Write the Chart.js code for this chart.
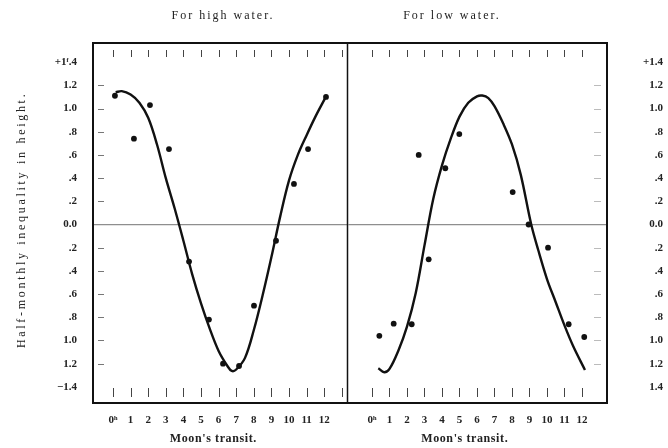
<!DOCTYPE html>
<html>
<head>
<meta charset="utf-8">
<script src="https://cdn.jsdelivr.net/npm/chart.js@4.4.0/dist/chart.umd.min.js"></script>
<style>
  body { margin: 0; background: #fff; }
  #wrap { position: relative; width: 668px; height: 448px; background: #fff; }
  #highChart { position: absolute; left: 0; top: 0; }
  #lowChart { position: absolute; left: 348px; top: 0; }
</style>
</head>
<body>
<div id="wrap">
  <canvas id="highChart" width="349" height="448"></canvas>
  <canvas id="lowChart" width="320" height="448"></canvas>
</div>
<script>
// axis ticks (feet) and labels, bottom to top
const yTickValues = [-1.4, -1.2, -1.0, -0.8, -0.6, -0.4, -0.2, 0, 0.2, 0.4, 0.6, 0.8, 1.0, 1.2, 1.4];
const yLabelsHigh = ['\u22121.4', '1.2', '1.0', '.8', '.6', '.4', '.2', '0.0', '.2', '.4', '.6', '.8', '1.0', '1.2', '+1\u1da0.4'];
const yLabelsLow = ['1.4', '1.2', '1.0', '.8', '.6', '.4', '.2', '0.0', '.2', '.4', '.6', '.8', '1.0', '1.2', '+1.4'];

// moon's transit, hours
const hourValues = [0, 1, 2, 3, 4, 5, 6, 7, 8, 9, 10, 11, 12];
const hourLabels = ['0\u02b0', '1', '2', '3', '4', '5', '6', '7', '8', '9', '10', '11', '12'];
const innerTicksHigh = [0, 1, 2, 3, 4, 5, 6, 7, 8, 9, 10, 11, 12, 13];
const innerTicksLow = [0, 1, 2, 3, 4, 5, 6, 7, 8, 9, 10, 11, 12];

// high water: observed points
const highObsHours = [0.11, 1.19, 2.10, 3.18, 4.32, 5.45, 6.25, 7.16, 8.01, 9.26, 10.28, 11.08, 12.10];
const highObsValues = [1.11, 0.74, 1.03, 0.65, -0.32, -0.82, -1.20, -1.22, -0.70, -0.14, 0.35, 0.65, 1.10];
// high water: drawn curve
const highCurveHours = [0.15, 0.5, 1.0, 1.5, 2.0, 2.5, 3.0, 3.5, 4.0, 4.5, 5.0, 5.5, 6.0, 6.5, 6.75, 7.0, 7.5, 8.0, 8.5, 9.0, 9.5, 10.0, 10.5, 11.0, 11.5, 12.09];
const highCurveValues = [1.14, 1.15, 1.12, 1.05, 0.92, 0.69, 0.40, 0.14, -0.14, -0.43, -0.68, -0.90, -1.09, -1.22, -1.263, -1.25, -1.15, -0.91, -0.61, -0.28, 0.07, 0.38, 0.60, 0.77, 0.93, 1.10];

// low water: observed points
const lowObsHours = [0.42, 1.24, 2.27, 2.67, 3.24, 4.19, 4.99, 8.04, 8.95, 10.06, 11.24, 12.13];
const lowObsValues = [-0.96, -0.855, -0.86, 0.60, -0.30, 0.485, 0.78, 0.28, 0.0, -0.20, -0.86, -0.97];
// low water: drawn curve
const lowCurveHours = [0.36, 0.7, 1.0, 1.5, 2.0, 2.5, 3.0, 3.5, 4.0, 4.5, 5.0, 5.5, 6.0, 6.3, 6.65, 7.0, 7.5, 8.0, 8.5, 9.1, 9.5, 10.0, 10.5, 11.0, 11.5, 12.17];
const lowCurveValues = [-1.24, -1.274, -1.245, -1.09, -0.88, -0.59, -0.18, 0.22, 0.51, 0.74, 0.93, 1.05, 1.105, 1.112, 1.09, 1.02, 0.87, 0.69, 0.43, 0.0, -0.22, -0.47, -0.67, -0.87, -1.05, -1.254];

const serif = '"Liberation Serif", "DejaVu Serif", serif';

function points(xs, ys) {
  return xs.map((x, i) => ({ x: x, y: ys[i] }));
}

// frame, inner tick marks and loose text for one panel
const panelFrame = {
  id: 'panelFrame',
  beforeDatasetsDraw(chart, args, opts) {
    const ctx = chart.ctx;
    const a = chart.chartArea;
    const xs = chart.scales.x;
    const ys = chart.scales.y;
    ctx.save();
    ctx.strokeStyle = '#444';
    ctx.lineWidth = 1;
    opts.innerTicks.forEach(h => {
      const px = Math.round(xs.getPixelForValue(h)) + 0.5;
      ctx.beginPath();
      ctx.moveTo(px, a.top + 7);
      ctx.lineTo(px, a.top + 14);
      ctx.moveTo(px, a.bottom - 15);
      ctx.lineTo(px, a.bottom - 6);
      ctx.stroke();
    });
    ctx.strokeStyle = opts.side === 'left' ? '#777' : '#bbb';
    yTickValues.forEach(v => {
      if (Math.abs(v) > 1.3 || v === 0) return;
      const py = Math.round(ys.getPixelForValue(v)) + 0.5;
      ctx.beginPath();
      if (opts.side === 'left') {
        ctx.moveTo(a.left + 5, py);
        ctx.lineTo(a.left + 11, py);
      } else {
        ctx.moveTo(a.right - 13, py);
        ctx.lineTo(a.right - 6, py);
      }
      ctx.stroke();
    });
    ctx.restore();
  },
  afterDraw(chart, args, opts) {
    const ctx = chart.ctx;
    const a = chart.chartArea;
    const xs = chart.scales.x;
    const ys = chart.scales.y;
    ctx.save();
    ctx.strokeStyle = '#111';
    ctx.lineWidth = 2;
    ctx.beginPath();
    if (opts.side === 'left') {
      ctx.moveTo(a.right, a.top);
      ctx.lineTo(a.left, a.top);
      ctx.lineTo(a.left, a.bottom);
      ctx.lineTo(a.right, a.bottom);
    } else {
      ctx.moveTo(a.left, a.top);
      ctx.lineTo(a.right, a.top);
      ctx.lineTo(a.right, a.bottom);
      ctx.lineTo(a.left, a.bottom);
    }
    ctx.stroke();
    if (opts.side === 'left') {
      ctx.lineWidth = 1.5;
      ctx.beginPath();
      ctx.moveTo(a.right - 0.5, a.top);
      ctx.lineTo(a.right - 0.5, a.bottom);
      ctx.stroke();
    }

    ctx.fillStyle = '#222';
    ctx.textAlign = 'center';
    ctx.textBaseline = 'middle';
    ctx.font = '12px ' + serif;
    ctx.letterSpacing = '2px';
    ctx.fillText(opts.title, xs.getPixelForValue(opts.titleHour), a.top - 27);
    ctx.font = 'bold 12px ' + serif;
    ctx.letterSpacing = '0.6px';
    ctx.fillText("Moon's transit.", xs.getPixelForValue(opts.transitHour), a.bottom + 36);
    if (opts.side === 'left') {
      ctx.font = '12px ' + serif;
      ctx.letterSpacing = '2.7px';
      ctx.translate(22, ys.getPixelForValue(0.04));
      ctx.rotate(-Math.PI / 2);
      ctx.fillText('Half-monthly inequality in height.', 0, 0);
    }
    ctx.restore();
  }
};

function makePanel(canvasId, side, curveXs, curveYs, obsXs, obsYs, xMin, xMax, yLabels, extra) {
  const ctx = document.getElementById(canvasId).getContext('2d');
  return new Chart(ctx, {
    type: 'scatter',
    data: {
      datasets: [{
        data: points(curveXs, curveYs),
        showLine: true,
        tension: 0.35,
        borderColor: '#111',
        borderWidth: 2.4,
        pointRadius: 0,
        pointHoverRadius: 0
      }, {
        data: points(obsXs, obsYs),
        showLine: false,
        pointRadius: 2.9,
        pointHoverRadius: 2.9,
        pointBackgroundColor: '#111',
        pointBorderColor: '#111',
        pointBorderWidth: 0
      }]
    },
    options: {
      responsive: false,
      animation: false,
      layout: {
        autoPadding: false,
        padding: { top: 43, left: 0, right: side === 'left' ? 1 : 5, bottom: 0 }
      },
      plugins: {
        legend: { display: false },
        tooltip: { enabled: false },
        panelFrame: extra
      },
      scales: {
        x: {
          type: 'linear',
          position: 'bottom',
          min: xMin,
          max: xMax,
          afterBuildTicks: s => { s.ticks = hourValues.map(v => ({ value: v })); },
          afterFit: s => { s.height = 45; s.paddingLeft = 0; s.paddingRight = 0; },
          grid: { display: false, drawTicks: false },
          border: { display: false },
          ticks: {
            autoSkip: false,
            maxRotation: 0,
            padding: 11,
            color: '#222',
            font: { family: serif, size: 11, weight: 'bold' },
            callback: (v, i) => hourLabels[i]
          }
        },
        y: {
          type: 'linear',
          position: side,
          min: -1.539,
          max: 1.565,
          afterBuildTicks: s => { s.ticks = yTickValues.map(v => ({ value: v })); },
          afterFit: s => { s.width = side === 'left' ? 93 : 56; },
          grid: {
            drawTicks: false,
            lineWidth: 1.2,
            color: c => (c.tick && c.tick.value === 0) ? '#8e8e8e' : 'rgba(0,0,0,0)'
          },
          border: { display: false },
          ticks: {
            padding: 16,
            crossAlign: side === 'left' ? 'near' : 'far',
            color: '#222',
            font: { family: serif, size: 11, weight: 'bold' },
            callback: (v, i) => yLabels[i]
          }
        }
      }
    },
    plugins: [panelFrame]
  });
}

let highChart = makePanel('highChart', 'left', highCurveHours, highCurveValues, highObsHours, highObsValues,
  -1.136, 13.35, yLabelsHigh,
  { side: 'left', innerTicks: innerTicksHigh, title: 'For high water.', titleHour: 6.25, transitHour: 5.7 });

let lowChart = makePanel('lowChart', 'right', lowCurveHours, lowCurveValues, lowObsHours, lowObsValues,
  -1.371, 13.43, yLabelsLow,
  { side: 'right', innerTicks: innerTicksLow, title: 'For low water.', titleHour: 4.57, transitHour: 5.3 });
</script>
</body>
</html>
